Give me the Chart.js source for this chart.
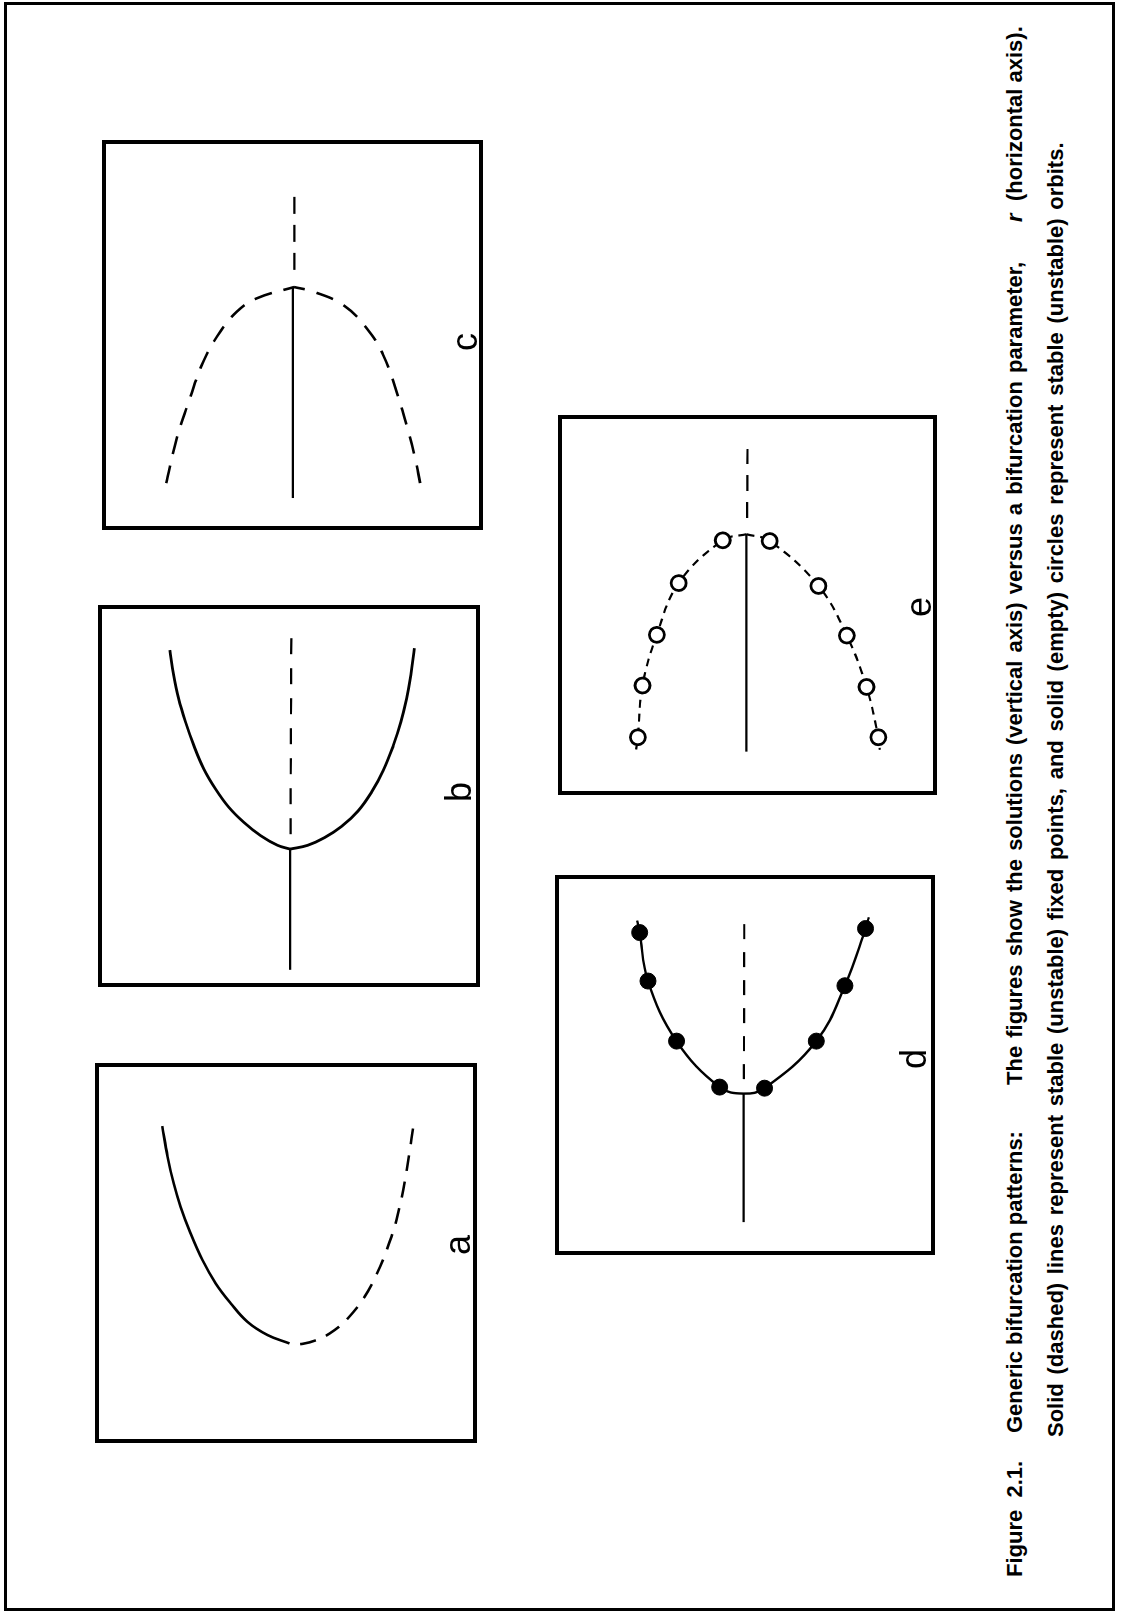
<!DOCTYPE html>
<html>
<head>
<meta charset="utf-8">
<title>Figure 2.1</title>
<script src="https://cdn.jsdelivr.net/npm/chart.js@4.4.1/dist/chart.umd.min.js"></script>
<style>
  html, body { margin: 0; padding: 0; background: #fff; overflow: hidden; }
  body { width: 1123px; height: 1615px; position: relative; }
  #frame { position: absolute; left: 4px; top: 2px; width: 1111px; height: 1609px;
           border: 3px solid #000; box-sizing: border-box; }
  /* the figure is laid out landscape and turned a quarter to the left */
  #sheet { position: absolute; left: 0; top: 0; width: 1615px; height: 1123px;
           transform-origin: 0 0; transform: translate(0, 1615px) rotate(-90deg); }
  .panel { position: absolute; }
  .panel canvas { position: absolute; left: 0; top: 0; }
  .panel .box { position: absolute; left: 0; top: 0; right: 0; bottom: 0;
                border: 4px solid #000; box-sizing: border-box; }
  .tag { position: absolute; font: 36px "Liberation Sans", Arial, sans-serif; line-height: 1;
         transform: translate(-50%, -50%); color: #000; }
  .cap { position: absolute; font: bold 22px "Liberation Sans", Arial, sans-serif;
         line-height: 22px; white-space: pre; color: #000; }
  .cap.it { font-style: italic; }
</style>
</head>
<body>
<div id="frame"></div>
<div id="sheet"></div>
<script>
// branches in panel units: r along x (0-100), solution along y (0-100)

// a: saddle-node
const aStable = [[83.4, 82.4], [75.4, 81.0], [68.3, 79.4], [62.2, 77.6], [55.2, 75.0], [48.2, 71.9],
                 [42.0, 68.4], [36.8, 64.5], [31.9, 60.1], [28.4, 54.8], [26.2, 49.1]];
const aUnstable = [[26.2, 49.1], [26.1, 45.6], [27.6, 40.8], [29.7, 37.3], [32.8, 33.8], [38.5, 29.4], [43.3, 26.8],
                   [48.2, 24.6], [54.3, 22.4], [58.7, 21.1], [66.6, 19.3], [77.1, 17.6], [83.2, 16.7]];

// b: supercritical pitchfork
const bStableAxis = [[4.5, 49.7], [36.1, 49.7]];
const bUnstableAxis = [[40.0, 49.6], [91.8, 49.4]];
const bUpper = [[36.1, 49.7], [37.1, 53.0], [39.6, 57.4], [43.1, 61.8], [47.0, 65.7], [51.8, 69.2], [57.1, 72.3],
                [63.2, 74.9], [69.4, 77.1], [75.5, 78.9], [81.7, 80.2], [88.2, 81.2]];
const bLower = [[36.1, 49.7], [37.1, 45.1], [39.1, 40.7], [42.0, 36.3], [46.1, 31.9], [51.0, 28.4], [56.7, 25.3],
                [63.2, 22.7], [69.4, 20.7], [75.5, 19.2], [81.7, 18.1], [88.7, 17.2]];

// c: subcritical pitchfork
const cStableAxis = [[8.2, 49.9], [62.1, 49.9]];
const cUnstableAxis = [[66.7, 49.5], [85.9, 49.5]];
const cUpper = [[62.3, 49.6], [59.4, 59.4], [56.0, 64.6], [50.8, 69.0], [43.2, 73.4], [33.8, 76.9], [23.5, 80.4], [11.7, 83.2]];
const cLower = [[62.3, 49.6], [61.1, 44.5], [57.7, 36.7], [51.7, 30.5], [44.9, 26.2], [35.5, 22.7], [25.2, 19.6], [18.4, 17.8], [12.0, 16.5]];

// d: supercritical Hopf
const dStableAxis = [[6.6, 50.4], [42.1, 50.4]];
const dUnstableAxis = [[46.1, 50.3], [90.3, 50.2]];
const dBranch = [[89.9, 79.8], [86.6, 79.1], [73.2, 76.8], [56.6, 68.9], [43.9, 57.0], [42.1, 50.4],
                 [43.6, 44.6], [56.6, 30.3], [71.9, 22.4], [87.7, 16.7], [90.8, 15.8]];
const dOrbits = [[86.6, 79.1], [73.2, 76.8], [56.6, 68.9], [43.9, 57.0], [43.6, 44.6], [56.6, 30.3], [71.9, 22.4], [87.7, 16.7]];

// e: subcritical Hopf
const eStableAxis = [[9.2, 50.3], [69.7, 50.3]];
const eUnstableAxis = [[74.2, 50.1], [93.4, 50.0]];
const eUpper = [[69.7, 50.3], [68.0, 56.9], [56.1, 69.2], [41.7, 75.3], [27.6, 79.3], [13.2, 80.6], [9.7, 81.1]];
const eLower = [[69.7, 50.3], [67.8, 43.8], [55.3, 30.2], [41.5, 22.3], [27.2, 16.8], [13.2, 13.5], [9.7, 13.1]];
const eOrbits = [[68.0, 56.9], [56.1, 69.2], [41.7, 75.3], [27.6, 79.3], [13.2, 80.6],
                 [67.8, 43.8], [55.3, 30.2], [41.5, 22.3], [27.2, 16.8], [13.2, 13.5]];

const panelTags = ['a', 'b', 'c', 'd', 'e'];

const captionLine1 = ['Figure  2.1.', 'Generic bifurcation patterns:',
  'The figures show the solutions (vertical axis) versus a bifurcation parameter,', 'r', '(horizontal axis).'];
const captionLine2 = ['Solid (dashed) lines represent stable (unstable) fixed points, and solid (empty) circles represent stable (unstable) orbits.'];

// placement on the landscape sheet (px)
const boxes = {
  a: { left: 172, top: 95, width: 380, height: 382, tag: [370, 458] },
  b: { left: 628, top: 98, width: 382, height: 382, tag: [823, 459] },
  c: { left: 1085, top: 102, width: 390, height: 381, tag: [1273, 465] },
  d: { left: 360, top: 555, width: 380, height: 380, tag: [556, 914] },
  e: { left: 820, top: 558, width: 380, height: 379, tag: [1008, 919] }
};
const caption1Starts = [38, 182, 530, 1393, 1414];
const caption1Spacing = [0, 0, 2, 0, 0];
const caption2Starts = [178];
const caption2Spacing = [2.6];
const captionRows = [1004, 1045];

function line(points, extra) {
  return Object.assign({
    data: points.map(([x, y]) => ({ x, y })),
    showLine: true,
    borderColor: '#000',
    borderWidth: 2.6,
    pointRadius: 0,
    tension: 0.4,
    order: 1
  }, extra);
}

function orbits(points, filled) {
  return {
    data: points.map(([x, y]) => ({ x, y })),
    showLine: false,
    pointRadius: filled ? 8 : 7.5,
    pointBorderWidth: filled ? 1 : 2.8,
    pointBorderColor: '#000',
    pointBackgroundColor: filled ? '#000' : '#fff',
    order: 0
  };
}

const axisLine = { borderWidth: 2.2, tension: 0 };
const withAxis = extra => Object.assign({}, axisLine, extra);

const panelData = {
  a: [line(aStable), line(aUnstable, { borderDash: [16, 11], borderDashOffset: 16 })],
  b: [line(bStableAxis, axisLine), line(bUnstableAxis, withAxis({ borderDash: [16, 14] })),
      line(bUpper, { borderWidth: 2.8 }), line(bLower, { borderWidth: 2.8 })],
  c: [line(cStableAxis, axisLine), line(cUnstableAxis, withAxis({ borderDash: [17, 11] })),
      line(cUpper, { borderDash: [18, 12], borderDashOffset: 7 }), line(cLower, { borderDash: [18, 12], borderDashOffset: 7 })],
  d: [orbits(dOrbits, true), line(dStableAxis, axisLine),
      line(dUnstableAxis, withAxis({ borderDash: [15, 13] })), line(dBranch, { borderWidth: 2.4 })],
  e: [orbits(eOrbits, false), line(eStableAxis, axisLine),
      line(eUnstableAxis, withAxis({ borderDash: [16, 11] })),
      line(eUpper, { borderWidth: 2.2, borderDash: [8, 6] }), line(eLower, { borderWidth: 2.2, borderDash: [8, 6] })]
};

const sheet = document.getElementById('sheet');

panelTags.forEach(tag => {
  const b = boxes[tag];
  const wrap = document.createElement('div');
  wrap.className = 'panel';
  wrap.style.left = b.left + 'px';
  wrap.style.top = b.top + 'px';
  wrap.style.width = b.width + 'px';
  wrap.style.height = b.height + 'px';
  const canvas = document.createElement('canvas');
  canvas.width = b.width;
  canvas.height = b.height;
  wrap.appendChild(canvas);
  const frame = document.createElement('div');
  frame.className = 'box';
  wrap.appendChild(frame);
  sheet.appendChild(wrap);

  new Chart(canvas, {
    type: 'scatter',
    data: { datasets: panelData[tag] },
    options: {
      responsive: false,
      animation: false,
      events: [],
      layout: { padding: 0 },
      plugins: { legend: { display: false }, tooltip: { enabled: false } },
      scales: {
        x: { type: 'linear', min: 0, max: 100, display: false },
        y: { type: 'linear', min: 0, max: 100, display: false }
      }
    }
  });

  const label = document.createElement('div');
  label.className = 'tag';
  label.textContent = tag;
  label.style.left = b.tag[0] + 'px';
  label.style.top = b.tag[1] + 'px';
  sheet.appendChild(label);
});

function captionRow(texts, starts, spacing, row) {
  texts.forEach((t, i) => {
    const s = document.createElement('div');
    s.className = 'cap' + (t === 'r' ? ' it' : '');
    s.textContent = t;
    s.style.left = starts[i] + 'px';
    s.style.top = row + 'px';
    s.style.wordSpacing = spacing[i] + 'px';
    sheet.appendChild(s);
  });
}
captionRow(captionLine1, caption1Starts, caption1Spacing, captionRows[0]);
captionRow(captionLine2, caption2Starts, caption2Spacing, captionRows[1]);
</script>
</body>
</html>
